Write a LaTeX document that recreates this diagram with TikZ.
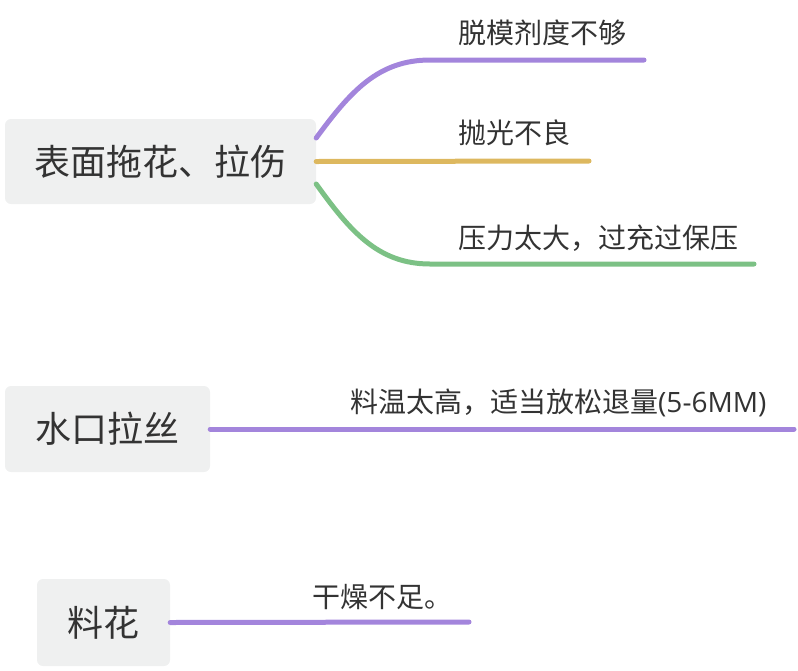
\documentclass[tikz,border=0pt]{standalone}
\usepackage{fontspec}
\setmainfont{Noto Sans CJK SC}
\newfontfamily\latfont{Open Sans}
\definecolor{txt}{HTML}{333333}
\definecolor{boxfill}{HTML}{EFF0F0}
\definecolor{cpurple}{HTML}{A385DC}
\definecolor{cgold}{HTML}{DDB85F}
\definecolor{cgreen}{HTML}{7CC185}
\tikzset{
  topic/.style={fill=boxfill, rounded corners=6pt, inner sep=0pt, text=txt, font=\fontsize{36}{40}\selectfont},
  leaf/.style={anchor=west, inner sep=0pt, text=txt, font=\fontsize{28}{32}\selectfont},
  branch/.style={line width=5pt, line cap=round},
}
\begin{document}
\begin{tikzpicture}[x=1pt,y=-1pt]
\useasboundingbox (0,0) rectangle (798,670);
% topics
\node[topic, minimum width=311pt, minimum height=85pt] (t1) at (160.5,161.5) {表面拖花、拉伤};
\node[topic, minimum width=205pt, minimum height=86pt] (t2) at (107.5,429) {水口拉丝};
\node[topic, minimum width=133pt, minimum height=87pt] (t3) at (103.5,622.5) {料花};
% leaves
\node[leaf] (l1) at (458,33) {脱模剂度不够};
\node[leaf] (l2) at (458,133) {抛光不良};
\node[leaf] (l3) at (458,238) {压力太大，过充过保压};
\node[leaf] (l4) at (350,403) {料温太高，适当放松退量{\latfont(5-6MM)}};
\node[leaf] (l5) at (312,597) {干燥不足。};
% end coordinates
\coordinate (e1) at (644,60);
\coordinate (e2) at (589,161);
\coordinate (e3) at (754,264);
\coordinate (e4) at (794,429);
\coordinate (e5) at (469,622);
% branches
\draw[branch, cpurple] ([yshift=23.5pt]t1.east) .. controls (350,92) and (378,60) .. (430,60) -- (e1);
\draw[branch, cgold] (t1.east) -- (e2);
\draw[branch, cgreen] ([yshift=-22.5pt]t1.east) .. controls (350,231) and (378,264) .. (430,264) -- (e3);
\draw[branch, cpurple] (t2.east) -- (e4);
\draw[branch, cpurple] (t3.east) -- (e5);
\end{tikzpicture}
\end{document}
